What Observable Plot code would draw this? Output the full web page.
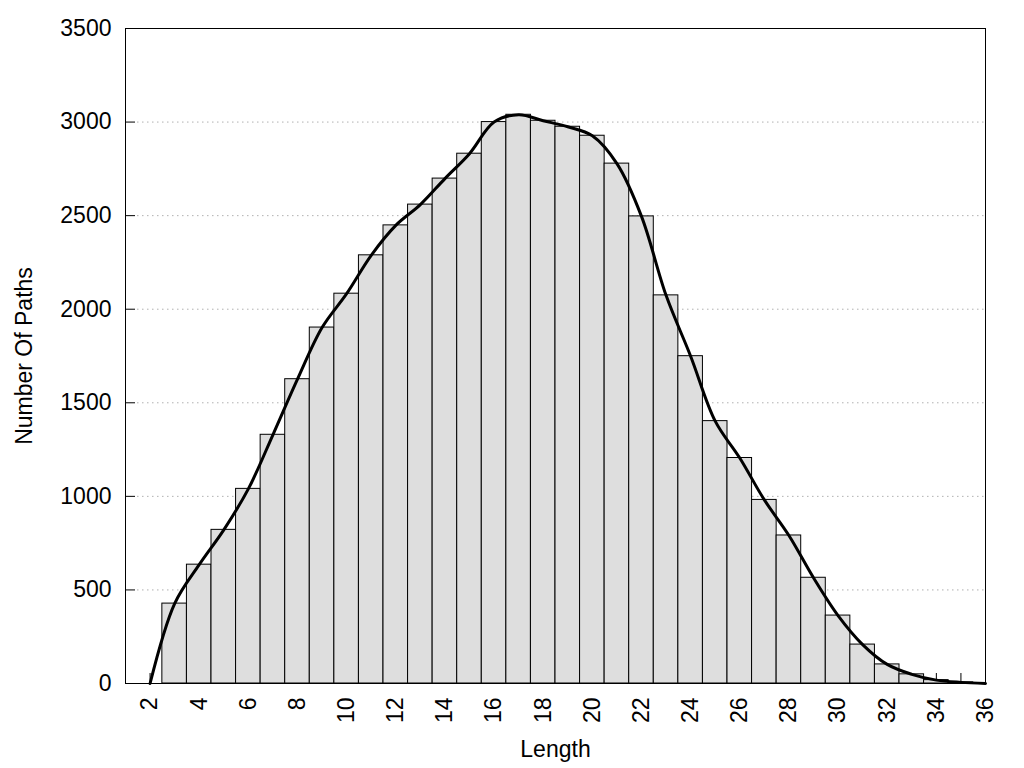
<!DOCTYPE html>
<html>
<head>
<meta charset="utf-8">
<script src="https://cdn.jsdelivr.net/npm/d3@7"></script>
<script src="https://cdn.jsdelivr.net/npm/@observablehq/plot@0.6"></script>
<style>
  html, body { margin: 0; padding: 0; background: #fff; }
  #chart { width: 1024px; height: 768px; }
</style>
</head>
<body>
<div id="chart"></div>
<script>
// Path length categories and counts
const lengths = [2, 3, 4, 5, 6, 7, 8, 9, 10, 11, 12, 13, 14, 15, 16, 17, 18, 19,
                 20, 21, 22, 23, 24, 25, 26, 27, 28, 29, 30, 31, 32, 33, 34, 35, 36];
const counts  = [0, 427, 635, 821, 1040, 1329, 1626, 1902, 2083, 2288, 2448, 2559, 2698, 2831, 3000, 3039, 3007, 2975,
                 2927, 2778, 2496, 2074, 1749, 1402, 1205, 981, 791, 565, 363, 208, 102, 49, 18, 6, 0];
const xTickLabels = [2, 4, 6, 8, 10, 12, 14, 16, 18, 20, 22, 24, 26, 28, 30, 32, 34, 36];
const xTickMarks = [2, 3, 4, 5, 6, 7, 8, 9, 10, 11, 12, 13, 14, 15, 16, 17, 18, 19,
                    20, 21, 22, 23, 24, 25, 26, 27, 28, 29, 30, 31, 32, 33, 34, 35];
const yTicks = [0, 500, 1000, 1500, 2000, 2500, 3000, 3500];

const data = lengths.map((len, i) => ({len, count: counts[i]}));
const bars = data.filter(d => d.count > 0);

const chart = Plot.plot({
  width: 1024,
  height: 768,
  marginLeft: 125,
  marginRight: 39,
  marginTop: 28,
  marginBottom: 85,
  style: {fontFamily: "'Liberation Sans', Arial, sans-serif", fontSize: "23px", background: "#fff", color: "#000"},
  x: {domain: [1, 36]},
  y: {domain: [0, 3500]},
  marks: [
    Plot.gridY(yTicks.filter(v => v > 0 && v < 3500), {stroke: "#b0b0b0", strokeOpacity: 1, strokeDasharray: "1.5,3.5", insetLeft: 12}),
    Plot.axisX(xTickMarks, {tickSize: -10, tickFormat: () => "", label: null}),
    Plot.rect(bars, {x1: d => d.len - 0.5, x2: d => d.len + 0.5, y1: 0, y2: "count", fill: "#dedede", stroke: "#000", strokeWidth: 1}),
    Plot.line(data, {x: "len", y: "count", curve: "catmull-rom", stroke: "#000", strokeWidth: 3}),
    Plot.axisY(yTicks, {tickSize: -10, tickFormat: () => "", label: null}),
    Plot.axisY(yTicks, {tickSize: 0, tickPadding: 14, tickFormat: d => String(d), label: "Number Of Paths", labelAnchor: "center", labelOffset: 110, labelArrow: "none"}),
    Plot.axisX(xTickLabels, {tickSize: 0, tickPadding: 14, tickRotate: -90, tickFormat: d => String(d), label: "Length", labelAnchor: "center", labelOffset: 73, labelArrow: "none"}),
    Plot.frame({stroke: "#000", strokeWidth: 1})
  ]
});
document.getElementById("chart").appendChild(chart);
</script>
</body>
</html>
